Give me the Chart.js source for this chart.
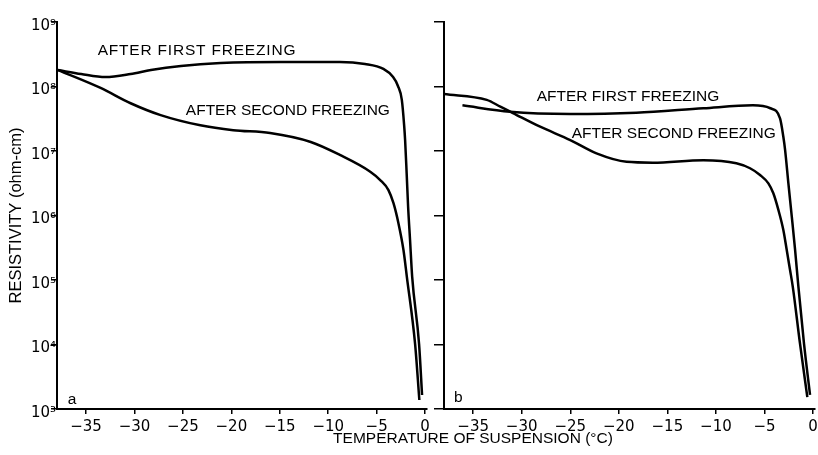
<!DOCTYPE html>
<html>
<head>
<meta charset="utf-8">
<script src="https://cdn.jsdelivr.net/npm/chart.js@4.4.1/dist/chart.umd.min.js"></script>
<style>
  html, body { margin: 0; padding: 0; background: #fff; overflow: hidden; }
  #wrap { position: relative; width: 818px; height: 455px; overflow: hidden; }
  canvas { position: absolute; left: 0; top: 0; }
  #xtitle { position: absolute; top: 429px; left: 473px; transform: translateX(-50%);
            font: 15.5px 'Liberation Sans', sans-serif; line-height: 18px; white-space: nowrap; color: #000; }
</style>
</head>
<body>
<div id="wrap">
  <canvas id="panelA" width="818" height="455"></canvas>
  <canvas id="panelB" width="840" height="455"></canvas>
  <div id="xtitle">TEMPERATURE OF SUSPENSION (°C)</div>
</div>
<script>
// valores: temperatura (°C) e resistividade (ohm-cm)
const xTicks = [-35, -30, -25, -20, -15, -10, -5, 0];
const yTicks = [1e3, 1e4, 1e5, 1e6, 1e7, 1e8, 1e9];
const supers = ['⁰', '¹', '²', '³', '⁴', '⁵', '⁶', '⁷', '⁸', '⁹'];

// painel a
const tempA1 = [-37.9, -35.5, -33.0, -30.4, -28.3, -25.2, -21.1, -14.9, -8.8, -6.2, -4.3, -3.3, -2.8, -2.4, -2.16, -2.06, -1.9, -1.75, -1.55, -1.33, -0.62, -0.31];
const resA1 = [1.8e8, 1.56e8, 1.4e8, 1.56e8, 1.8e8, 2.08e8, 2.31e8, 2.4e8, 2.4e8, 2.23e8, 1.87e8, 1.4e8, 1.02e8, 6.2e7, 2.5e7, 1.48e7, 4.5e6, 1.37e6, 4.17e5, 1.12e5, 1.02e4, 1.65e3];
const tempA2 = [-37.9, -33.5, -30.4, -27.3, -23.2, -19.8, -16.0, -11.8, -8.8, -5.66, -4.63, -3.78, -3.26, -2.75, -2.23, -1.88, -1.03, -0.59];
const resA2 = [1.8e8, 9.5e7, 5.5e7, 3.6e7, 2.5e7, 2.1e7, 1.9e7, 1.38e7, 8.7e6, 4.78e6, 3.55e6, 2.48e6, 1.55e6, 7.6e5, 2.92e5, 1.12e5, 1.02e4, 1.38e3];

// painel b
const tempB1 = [-36.1, -31.2, -25.0, -18.2, -11.3, -6.2, -4.4, -3.4, -3.06, -2.88, -2.54, -2.19, -1.85, -1.51, -0.93, -0.31];
const resB1 = [5.1e7, 4.06e7, 3.75e7, 3.93e7, 4.6e7, 5.1e7, 4.6e7, 3.2e7, 1.66e7, 1.04e7, 3.15e6, 9.6e5, 2.92e5, 7.9e4, 1.02e4, 1.65e3];
const tempB2 = [-38.0, -33.6, -32.2, -30.9, -28.1, -25.0, -22.3, -19.2, -16.5, -11.3, -7.9, -6.49, -5.46, -4.6, -4.09, -3.57, -3.06, -2.71, -2.37, -2.09, -1.34, -0.59];
const resB2 = [7.65e7, 6.2e7, 4.87e7, 3.88e7, 2.38e7, 1.48e7, 9.2e6, 6.8e6, 6.6e6, 7.2e6, 6.45e6, 5.4e6, 4.25e6, 3.15e6, 2.21e6, 1.22e6, 5.96e5, 2.92e5, 1.43e5, 7.9e4, 1.02e4, 1.53e3];

const labelFont = "15.5px 'Liberation Sans', sans-serif";

// escreve os rótulos das curvas em coordenadas de dados
const notesPlugin = {
    id: 'notes',
    afterDatasetsDraw(chart, args, opts) {
        const ctx = chart.ctx;
        const xs = chart.scales.x, ys = chart.scales.y;
        ctx.save();
        ctx.fillStyle = '#000';
        ctx.textBaseline = 'middle';
        ctx.textAlign = 'left';
        opts.items.forEach(function(n) {
            ctx.font = labelFont;
            ctx.letterSpacing = (n.spacing || 0) + 'px';
            ctx.fillText(n.text, xs.getPixelForValue(n.x), ys.getPixelForValue(n.y));
        });
        ctx.restore();
    }
};

function pairs(xv, yv) {
    return xv.map((t, i) => ({ x: t, y: yv[i] }));
}

function lineSet(xv, yv) {
    return {
        data: pairs(xv, yv),
        borderColor: '#000',
        borderWidth: 2.5,
        pointRadius: 0,
        fill: false,
        cubicInterpolationMode: 'monotone'
    };
}

function makePanel(id, sets, yWidth, rightPad, showYLabels, notes) {
    const ctx = document.getElementById(id).getContext('2d');
    return new Chart(ctx, {
        type: 'line',
        data: { datasets: sets },
        plugins: [notesPlugin],
        options: {
            responsive: false,
            animation: false,
            events: [],
            layout: { padding: { top: 22, right: rightPad, bottom: 0, left: 0 } },
            plugins: {
                legend: { display: false },
                tooltip: { enabled: false },
                notes: { items: notes }
            },
            scales: {
                x: {
                    type: 'linear',
                    min: -38,
                    max: 0.2,
                    afterBuildTicks: s => { s.ticks = xTicks.map(v => ({ value: v })); },
                    afterFit: s => { s.height = 46; },
                    ticks: {
                        color: '#000',
                        font: { family: 'DejaVu Sans', size: 15 },
                        padding: 4,
                        autoSkip: false,
                        maxRotation: 0,
                        callback: v => String(v).replace('-', '−')
                    },
                    grid: { drawOnChartArea: false, drawTicks: true, tickLength: 5, color: '#000', lineWidth: 1.5 },
                    border: { display: true, color: '#000', width: 2 }
                },
                y: {
                    type: 'logarithmic',
                    min: 1e3,
                    max: 1e9,
                    afterBuildTicks: s => { s.ticks = yTicks.map(v => ({ value: v })); },
                    afterFit: s => { s.width = yWidth; },
                    ticks: {
                        display: showYLabels,
                        color: '#000',
                        font: { family: 'DejaVu Sans', size: 15 },
                        padding: -5,
                        labelOffset: 4,
                        callback: v => '10' + supers[Math.round(Math.log10(v))]
                    },
                    grid: { drawOnChartArea: false, drawTicks: true, tickLength: showYLabels ? 6 : 10, color: '#000', lineWidth: 1.5 },
                    border: { display: true, color: '#000', width: 2 },
                    title: {
                        display: showYLabels,
                        text: 'RESISTIVITY (ohm-cm)',
                        color: '#000',
                        font: { family: 'Liberation Sans', size: 16.5 },
                        padding: { top: 7, bottom: 0 }
                    }
                }
            }
        }
    });
}

makePanel('panelA', [lineSet(tempA1, resA1), lineSet(tempA2, resA2)], 57, 391, true, [
    { text: 'AFTER FIRST FREEZING', x: -33.8, y: 3.55e8, spacing: 0.8 },
    { text: 'AFTER SECOND FREEZING', x: -24.7, y: 4.17e7 },
    { text: 'a', x: -36.9, y: 1.38e3 }
]);

makePanel('panelB', [lineSet(tempB1, resB1), lineSet(tempB2, resB2)], 444, 25, false, [
    { text: 'AFTER FIRST FREEZING', x: -28.45, y: 6.87e7 },
    { text: 'AFTER SECOND FREEZING', x: -24.85, y: 1.84e7 },
    { text: 'b', x: -36.97, y: 1.48e3 }
]);
</script>
</body>
</html>
